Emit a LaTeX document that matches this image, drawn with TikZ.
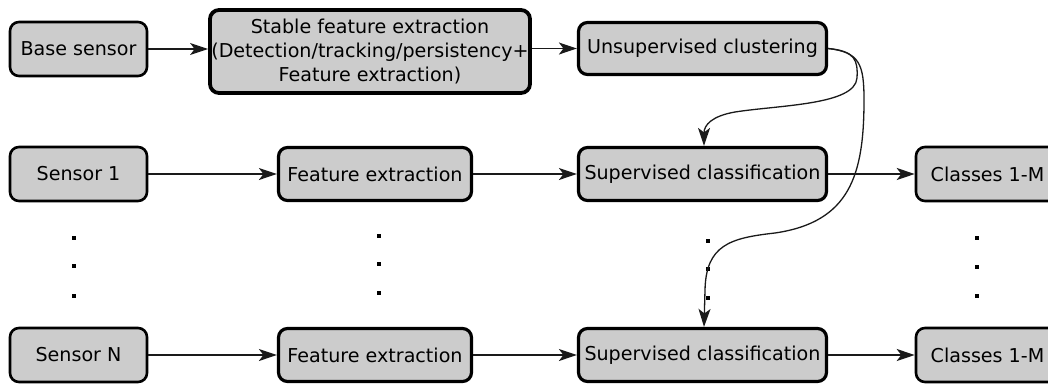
\documentclass[tikz,border=0pt]{standalone}
\usepackage{fontspec}
\setmainfont{DejaVu Sans}
\usetikzlibrary{arrows.meta}
\definecolor{boxfill}{HTML}{CCCCCC}
\definecolor{linec}{HTML}{1A1A1A}
\begin{document}
\begin{tikzpicture}[x=1pt,y=-1pt,
  box/.style={draw=black, fill=boxfill, rounded corners=9pt, inner sep=0pt,
    align=center, font=\fontsize{19.1}{24}\selectfont, text=black},
  thinbox/.style={box, line width=2.6pt},
  midbox/.style={box, line width=3.2pt},
  bigbox/.style={box, line width=3.8pt},
  conn/.style={draw=linec, line width=1.3pt,
    -{Stealth[length=18pt, width=12pt, inset=4.5pt]}},
  dotmark/.style={fill=black, inner sep=0pt, minimum size=4pt, shape=rectangle}]
\useasboundingbox (0,0) rectangle (1048,386);
\clip (0,0) rectangle (1048,386);
% top row
\node[thinbox, minimum width=137pt, minimum height=54pt] (base) at (78.5,49) {Base sensor};
\node[bigbox, minimum width=320pt, minimum height=83pt] (stable) at (370,51.5)
  {Stable feature extraction\\(Detection/tracking/persistency+\\Feature extraction)};
\node[midbox, minimum width=248pt, minimum height=52pt] (unsup) at (702.5,48.5) {Unsupervised clustering};
% row 1
\node[thinbox, minimum width=137pt, minimum height=54pt] (s1) at (78.5,174) {Sensor 1};
\node[midbox, minimum width=193pt, minimum height=53pt] (fe1) at (375,174) {Feature extraction};
\node[midbox, minimum width=248pt, minimum height=53pt] (sc1) at (702.5,174) {Supervised classification};
\node[thinbox, minimum width=143pt, minimum height=54pt] (cl1) at (987.5,174) {Classes 1-M};
% row N
\node[thinbox, minimum width=137pt, minimum height=54pt] (sN) at (78.5,355) {Sensor N};
\node[midbox, minimum width=193pt, minimum height=53pt] (feN) at (375,355) {Feature extraction};
\node[midbox, minimum width=248pt, minimum height=53pt] (scN) at (702.5,355) {Supervised classification};
\node[thinbox, minimum width=143pt, minimum height=54pt] (clN) at (987.5,355) {Classes 1-M};
% dots
\node[dotmark] (d11) at (74,238) {};
\node[dotmark] (d12) at (74,266) {};
\node[dotmark] (d13) at (74,296) {};
\node[dotmark] (d21) at (379,236) {};
\node[dotmark] (d22) at (379,264) {};
\node[dotmark] (d23) at (379,293) {};
\node[dotmark] (d31) at (708,241) {};
\node[dotmark] (d32) at (708,269) {};
\node[dotmark] (d33) at (708,298) {};
\node[dotmark] (d41) at (977,238) {};
\node[dotmark] (d42) at (977,267) {};
\node[dotmark] (d43) at (977,296) {};
% straight connectors
\draw[conn] (base) -- (stable.west |- base);
\draw[conn] (stable.east |- unsup) -- (unsup);
\draw[conn] (s1) -- (fe1);
\draw[conn] (fe1) -- (sc1);
\draw[conn] (sc1) -- (cl1);
\draw[conn] (sN) -- (feN);
\draw[conn] (feN) -- (scN);
\draw[conn] (scN) -- (clN);
% curved connectors
\draw[conn] (unsup.east) .. controls (855,51) and (858,60) .. (857,78)
  .. controls (855,105) and (780,105) .. (735,112)
  .. controls (712,116) and (704,125) .. ([xshift=1.5pt]sc1.north);
\draw[conn] (unsup.east) .. controls (860,52) and (864,65) .. (864,100)
  .. controls (864,175) and (850,222) .. (775,233)
  .. controls (730,238) and (706,245) .. (705,290)
  -- ([xshift=1.5pt]scN.north);
\end{tikzpicture}
\end{document}
